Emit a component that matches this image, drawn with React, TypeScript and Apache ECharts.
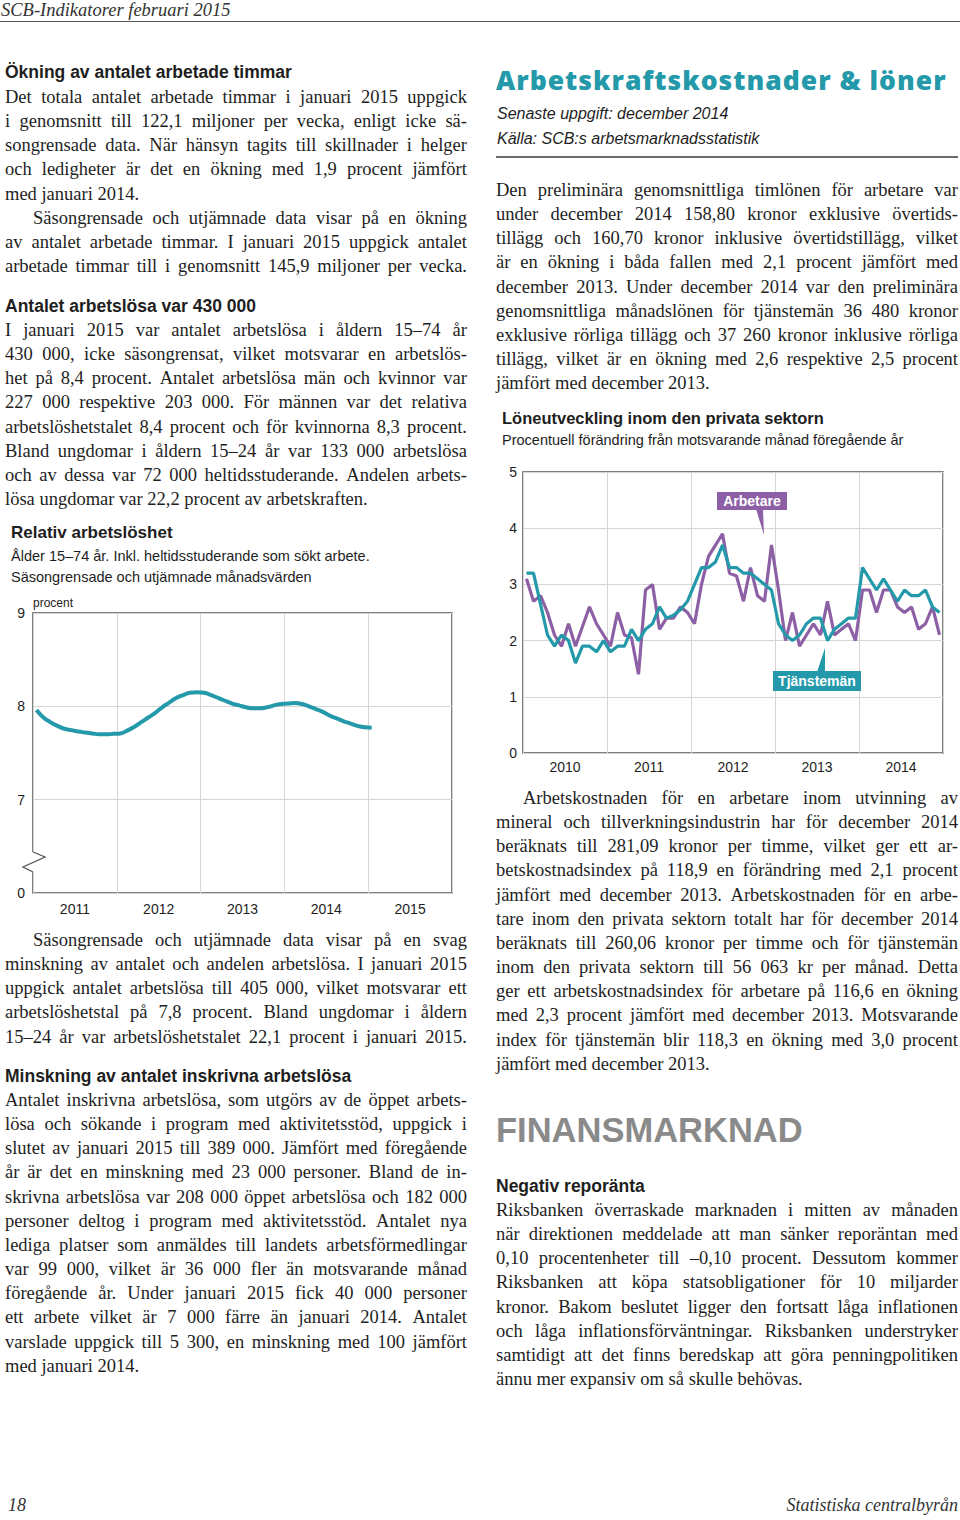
import React, { useEffect, useRef } from "react";
import * as echarts from "echarts";

// ---------- DATA ----------
const unemploymentYears = ["2011", "2012", "2013", "2014", "2015"];
// Monthly, Jan 2011 – Jan 2015 (procent)
const unemploymentRate = [
  7.96, 7.88, 7.83, 7.79, 7.76, 7.745, 7.73, 7.72, 7.71, 7.7, 7.7, 7.705,
  7.71, 7.74, 7.78, 7.83, 7.88, 7.93, 7.99, 8.04, 8.09, 8.12, 8.145, 8.15,
  8.145, 8.12, 8.09, 8.06, 8.03, 8.01, 7.99, 7.98, 7.98, 7.99, 8.01, 8.025,
  8.03, 8.035, 8.025, 8.0, 7.97, 7.94, 7.9, 7.87, 7.84, 7.815, 7.79, 7.775,
  7.77,
];
const unemploymentYTicks = [6, 7, 8, 9];
const unemploymentYLabels = ["0", "7", "8", "9"];

const wageYears = ["2010", "2011", "2012", "2013", "2014"];
// Monthly, Jan 2010 – Dec 2014
const arbetare = [
  3.1, 2.7, 2.8, 2.5, 2.1, 1.9, 2.3, 1.9, 2.25, 2.6, 2.3, 2.1,
  1.9, 2.5, 2.1, 2.05, 1.4, 2.9, 3.0, 2.2, 2.4, 2.4, 2.6, 2.5,
  2.3, 3.0, 3.5, 3.7, 3.9, 3.2, 3.15, 2.7, 3.3, 2.8, 2.7, 3.7,
  2.9, 2.0, 2.5, 1.9, 2.1, 2.3, 2.1, 2.7, 2.1, 2.2, 2.3, 2.0,
  2.9, 2.9, 2.5, 2.9, 2.9, 2.6, 2.5, 2.6, 2.2, 2.3, 2.6, 2.1,
];
const tjansteman = [
  3.2, 3.2, 2.65, 2.1, 1.9, 2.1, 2.0, 1.6, 1.9, 1.9, 1.8, 2.0,
  1.8, 1.9, 1.9, 2.2, 2.0, 2.2, 2.3, 2.6, 2.4, 2.45, 2.55, 2.7,
  3.0, 3.3, 3.3, 3.4, 3.7, 3.3, 3.3, 3.2, 3.2, 3.1, 3.0, 2.9,
  2.3, 2.1, 2.0, 2.1, 2.3, 2.4, 2.4, 2.0, 2.2, 2.3, 2.4, 2.4,
  3.3, 3.1, 2.9, 3.1, 2.9, 2.7, 2.9, 2.8, 2.8, 2.9, 2.6, 2.5,
];

// ---------- STYLE ----------
const SERIF = '"Liberation Serif", "Times New Roman", serif';
const SANS = '"Liberation Sans", Arial, sans-serif';
const TEAL = "#2399aa";
const PURPLE = "#8d60a6";
const GRID = "#d5d5d5";
const FRAME = "#555555";
const INK = "#1e1e1e";
const LH = 24.15;

// ---------- TEXT ----------
const blockA = [
  "Det totala antalet arbetade timmar i januari 2015 uppgick",
  "i genomsnitt till 122,1 miljoner per vecka, enligt icke sä-",
  "songrensade data. När hänsyn tagits till skillnader i helger",
  "och ledigheter är det en ökning med 1,9 procent jämfört",
  "med januari 2014.|",
  ">Säsongrensade och utjämnade data visar på en ökning",
  "av antalet arbetade timmar. I januari 2015 uppgick antalet",
  "arbetade timmar till i genomsnitt 145,9 miljoner per vecka.",
];
const blockB = [
  "I januari 2015 var antalet arbetslösa i åldern 15–74 år",
  "430 000, icke säsongrensat, vilket motsvarar en arbetslös-",
  "het på 8,4 procent. Antalet arbetslösa män och kvinnor var",
  "227 000 respektive 203 000. För männen var det relativa",
  "arbetslöshetstalet 8,4 procent och för kvinnorna 8,3 procent.",
  "Bland ungdomar i åldern 15–24 år var 133 000 arbetslösa",
  "och av dessa var 72 000 heltidsstuderande. Andelen arbets-",
  "lösa ungdomar var 22,2 procent av arbetskraften.|",
];
const blockC = [
  ">Säsongrensade och utjämnade data visar på en svag",
  "minskning av antalet och andelen arbetslösa. I januari 2015",
  "uppgick antalet arbetslösa till 405 000, vilket motsvarar ett",
  "arbetslöshetstal på 7,8 procent. Bland ungdomar i åldern",
  "15–24 år var arbetslöshetstalet 22,1 procent i januari 2015.",
];
const blockD = [
  "Antalet inskrivna arbetslösa, som utgörs av de öppet arbets-",
  "lösa och sökande i program med aktivitetsstöd, uppgick i",
  "slutet av januari 2015 till 389 000. Jämfört med föregående",
  "år är det en minskning med 23 000 personer. Bland de in-",
  "skrivna arbetslösa var 208 000 öppet arbetslösa och 182 000",
  "personer deltog i program med aktivitetsstöd. Antalet nya",
  "lediga platser som anmäldes till landets arbetsförmedlingar",
  "var 99 000, vilket är 36 000 fler än motsvarande månad",
  "föregående år. Under januari 2015 fick 40 000 personer",
  "ett arbete vilket är 7 000 färre än januari 2014. Antalet",
  "varslade uppgick till 5 300, en minskning med 100 jämfört",
  "med januari 2014.|",
];
const blockE = [
  "Den preliminära genomsnittliga timlönen för arbetare var",
  "under december 2014 158,80 kronor exklusive övertids-",
  "tillägg och 160,70 kronor inklusive övertidstillägg, vilket",
  "är en ökning i båda fallen med 2,1 procent jämfört med",
  "december 2013. Under december 2014 var den preliminära",
  "genomsnittliga månadslönen för tjänstemän 36 480 kronor",
  "exklusive rörliga tillägg och 37 260 kronor inklusive rörliga",
  "tillägg, vilket är en ökning med 2,6 respektive 2,5 procent",
  "jämfört med december 2013.|",
];
const blockF = [
  ">Arbetskostnaden för en arbetare inom utvinning av",
  "mineral och tillverkningsindustrin har för december 2014",
  "beräknats till 281,09 kronor per timme, vilket ger ett ar-",
  "betskostnadsindex på 118,9 en förändring med 2,1 procent",
  "jämfört med december 2013. Arbetskostnaden för en arbe-",
  "tare inom den privata sektorn totalt har för december 2014",
  "beräknats till 260,06 kronor per timme och för tjänstemän",
  "inom den privata sektorn till 56 063 kr per månad. Detta",
  "ger ett arbetskostnadsindex för arbetare på 116,6 en ökning",
  "med 2,3 procent jämfört med december 2013. Motsvarande",
  "index för tjänstemän blir 118,3 en ökning med 3,0 procent",
  "jämfört med december 2013.|",
];
const blockG = [
  "Riksbanken överraskade marknaden i mitten av månaden",
  "när direktionen meddelade att man sänker reporäntan med",
  "0,10 procentenheter till –0,10 procent. Dessutom kommer",
  "Riksbanken att köpa statsobligationer för 10 miljarder",
  "kronor. Bakom beslutet ligger den fortsatt låga inflationen",
  "och låga inflationsförväntningar. Riksbanken understryker",
  "samtidigt att det finns beredskap att göra penningpolitiken",
  "ännu mer expansiv om så skulle behövas.|",
];

function TextBlock({ x, y, lines, width = 462, indent = 28 }: any) {
  return (
    <>
      {lines.map((raw: string, i: number) => {
        const ind = raw.startsWith(">");
        const left = raw.endsWith("|");
        const text = raw.replace(/^>/, "").replace(/\|$/, "");
        const base: any = {
          position: "absolute",
          left: x,
          top: y + i * LH - 12,
          width,
          height: 24,
          lineHeight: "24px",
          fontFamily: SERIF,
          fontSize: 18.5,
          color: INK,
          whiteSpace: "nowrap",
          boxSizing: "border-box",
          paddingLeft: ind ? indent : 0,
        };
        if (left) return <div key={i} style={base}>{text}</div>;
        const words = text.split(" ");
        return (
          <div key={i} style={{ ...base, display: "flex", justifyContent: "space-between" }}>
            {words.map((w, j) => (
              <span key={j}>{j < words.length - 1 ? w + " " : w}</span>
            ))}
          </div>
        );
      })}
    </>
  );
}

function Abs({ x, y, children, style }: any) {
  return (
    <div style={{ position: "absolute", left: x, top: y, whiteSpace: "nowrap", color: INK, ...style }}>
      {children}
    </div>
  );
}

function useChart(option: any) {
  const ref = useRef<HTMLDivElement>(null);
  useEffect(() => {
    if (!ref.current) return;
    const chart = echarts.init(ref.current, undefined, { renderer: "svg" });
    chart.setOption(option);
    return () => chart.dispose();
  }, []);
  return ref;
}

function UnemploymentChart() {
  const option = {
    animation: false,
    grid: { left: 33, right: 28, top: 23, bottom: 27, show: true, borderColor: FRAME, borderWidth: 1.5 },
    xAxis: [
      {
        type: "value", min: 0, max: 60, interval: 12,
        axisLine: { show: false }, axisTick: { show: false }, axisLabel: { show: false },
        splitLine: { show: true, lineStyle: { color: GRID, width: 1 } },
      },
      {
        type: "category", data: unemploymentYears, boundaryGap: true, position: "bottom",
        axisLine: { show: false }, axisTick: { show: false }, splitLine: { show: false },
        axisLabel: { color: INK, fontSize: 14, fontFamily: SANS, margin: 9 },
      },
    ],
    yAxis: {
      type: "value", min: 6, max: 9, interval: 1,
      axisLine: { show: false }, axisTick: { show: false },
      splitLine: { show: true, lineStyle: { color: GRID, width: 1 } },
      axisLabel: {
        color: INK, fontSize: 14, fontFamily: SANS, margin: 8,
        formatter: (v: number) => unemploymentYLabels[unemploymentYTicks.indexOf(v)] ?? "",
      },
      name: "procent", nameLocation: "end", nameGap: 4,
      nameTextStyle: { align: "left", fontSize: 12, fontFamily: SANS, color: INK },
    },
    series: [
      {
        type: "line", xAxisIndex: 0, smooth: true, symbol: "none",
        data: unemploymentRate.map((v, i) => [i + 0.5, v]),
        lineStyle: { color: TEAL, width: 4 },
      },
    ],
    graphic: [
      { type: "rect", z: 100, shape: { x: 31, y: 262, width: 5, height: 20 }, style: { fill: "#fff" } },
      {
        type: "polyline", z: 101,
        shape: { points: [[33, 262], [45, 267], [23, 277], [33, 282]] },
        style: { stroke: FRAME, lineWidth: 1.3, fill: "none" },
      },
    ],
  };
  const ref = useChart(option);
  return <div ref={ref} style={{ position: "absolute", left: 0, top: 590, width: 480, height: 330 }} />;
}

function WageChart() {
  const option = {
    animation: false,
    grid: { left: 43, right: 17, top: 17, bottom: 32, show: true, borderColor: FRAME, borderWidth: 1.5 },
    xAxis: [
      {
        type: "value", min: 0, max: 60, interval: 12,
        axisLine: { show: false }, axisTick: { show: false }, axisLabel: { show: false },
        splitLine: { show: true, lineStyle: { color: GRID, width: 1 } },
      },
      {
        type: "category", data: wageYears, boundaryGap: true, position: "bottom",
        axisLine: { show: false }, axisTick: { show: false }, splitLine: { show: false },
        axisLabel: { color: INK, fontSize: 14, fontFamily: SANS, margin: 7 },
      },
    ],
    yAxis: {
      type: "value", min: 0, max: 5, interval: 1,
      axisLine: { show: false }, axisTick: { show: false },
      splitLine: { show: true, lineStyle: { color: GRID, width: 1 } },
      axisLabel: { color: INK, fontSize: 14, fontFamily: SANS, margin: 6 },
    },
    series: [
      {
        type: "line", name: "Arbetare", xAxisIndex: 0, symbol: "none",
        data: arbetare.map((v, i) => [i + 0.5, v]),
        lineStyle: { color: PURPLE, width: 3.2 },
      },
      {
        type: "line", name: "Tjänstemän", xAxisIndex: 0, symbol: "none",
        data: tjansteman.map((v, i) => [i + 0.5, v]),
        lineStyle: { color: TEAL, width: 3.2 },
      },
    ],
    graphic: [
      { type: "polygon", z: 100, shape: { points: [[276, 54], [283, 54], [284, 80]] }, style: { fill: PURPLE } },
      { type: "rect", z: 100, shape: { x: 237, y: 37, width: 70, height: 18 }, style: { fill: PURPLE } },
      {
        type: "text", z: 101, x: 272, y: 46,
        style: { text: "Arbetare", fill: "#fff", font: `bold 14px ${SANS}`, align: "center", verticalAlign: "middle" },
      },
      { type: "polygon", z: 100, shape: { points: [[337, 217], [345, 217], [345, 193]] }, style: { fill: TEAL } },
      { type: "rect", z: 100, shape: { x: 293, y: 216, width: 88, height: 20 }, style: { fill: TEAL } },
      {
        type: "text", z: 101, x: 337, y: 226,
        style: { text: "Tjänstemän", fill: "#fff", font: `bold 14px ${SANS}`, align: "center", verticalAlign: "middle" },
      },
    ],
  };
  const ref = useChart(option);
  return <div ref={ref} style={{ position: "absolute", left: 480, top: 455, width: 480, height: 330 }} />;
}

const heading: any = { fontFamily: SANS, fontWeight: 700, fontSize: 17.5, lineHeight: "22px" };

export default function App() {
  return (
    <div style={{ position: "absolute", left: 0, top: 0, width: 960, height: 1520, background: "#fff", overflow: "hidden" }}>
      {/* Header */}
      <Abs x={1} y={0} style={{ fontFamily: SERIF, fontStyle: "italic", fontSize: 18.5, lineHeight: "21px", color: "#333" }}>
        SCB-Indikatorer februari 2015
      </Abs>
      <div style={{ position: "absolute", left: 0, top: 21, width: 960, height: 1, background: "#555" }} />

      {/* Left column */}
      <Abs x={5} y={61} style={heading}>Ökning av antalet arbetade timmar</Abs>
      <TextBlock x={5} y={97} lines={blockA} />
      <Abs x={5} y={295} style={heading}>Antalet arbetslösa var 430 000</Abs>
      <TextBlock x={5} y={330} lines={blockB} />

      <Abs x={11} y={523} style={{ fontFamily: SANS, fontWeight: 700, fontSize: 17, lineHeight: "20px" }}>Relativ arbetslöshet</Abs>
      <Abs x={11} y={546} style={{ fontFamily: SANS, fontSize: 14.5, lineHeight: "20px" }}>Ålder 15–74 år. Inkl. heltidsstuderande som sökt arbete.</Abs>
      <Abs x={11} y={567} style={{ fontFamily: SANS, fontSize: 14.5, lineHeight: "20px" }}>Säsongrensade och utjämnade månadsvärden</Abs>
      <UnemploymentChart />

      <TextBlock x={5} y={940} lines={blockC} />
      <Abs x={5} y={1065} style={heading}>Minskning av antalet inskrivna arbetslösa</Abs>
      <TextBlock x={5} y={1100} lines={blockD} />

      {/* Right column */}
      <Abs x={496} y={63} style={{ fontFamily: '"Open Sans", "Liberation Sans", Arial, sans-serif', fontWeight: 800, fontSize: 26.5, lineHeight: "34px", color: TEAL, letterSpacing: 1.0 }}>
        Arbetskraftskostnader &amp; löner
      </Abs>
      <Abs x={497} y={104} style={{ fontFamily: SANS, fontStyle: "italic", fontSize: 16, lineHeight: "20px" }}>Senaste uppgift: december 2014</Abs>
      <Abs x={497} y={129} style={{ fontFamily: SANS, fontStyle: "italic", fontSize: 16, lineHeight: "20px" }}>Källa: SCB:s arbetsmarknadsstatistik</Abs>
      <div style={{ position: "absolute", left: 496, top: 156, width: 462, height: 2, background: "#6a6a6a" }} />
      <TextBlock x={496} y={190} lines={blockE} />

      <Abs x={502} y={408} style={{ fontFamily: SANS, fontWeight: 700, fontSize: 16.5, lineHeight: "20px" }}>Löneutveckling inom den privata sektorn</Abs>
      <Abs x={502} y={430} style={{ fontFamily: SANS, fontSize: 14.5, lineHeight: "20px" }}>Procentuell förändring från motsvarande månad föregående år</Abs>
      <WageChart />

      <TextBlock x={496} y={798} lines={blockF} indent={27} />
      <Abs x={496} y={1110} style={{ fontFamily: SANS, fontWeight: 700, fontSize: 34.5, lineHeight: "40px", color: "#8a8a8a" }}>FINANSMARKNAD</Abs>
      <Abs x={496} y={1175} style={heading}>Negativ reporänta</Abs>
      <TextBlock x={496} y={1210} lines={blockG} />

      {/* Footer */}
      <Abs x={8} y={1494} style={{ fontFamily: SERIF, fontStyle: "italic", fontSize: 18, lineHeight: "22px", color: "#333" }}>18</Abs>
      <Abs x={700} y={1494} style={{ fontFamily: SERIF, fontStyle: "italic", fontSize: 18, lineHeight: "22px", color: "#333", width: 258, textAlign: "right" }}>
        Statistiska centralbyrån
      </Abs>
    </div>
  );
}
